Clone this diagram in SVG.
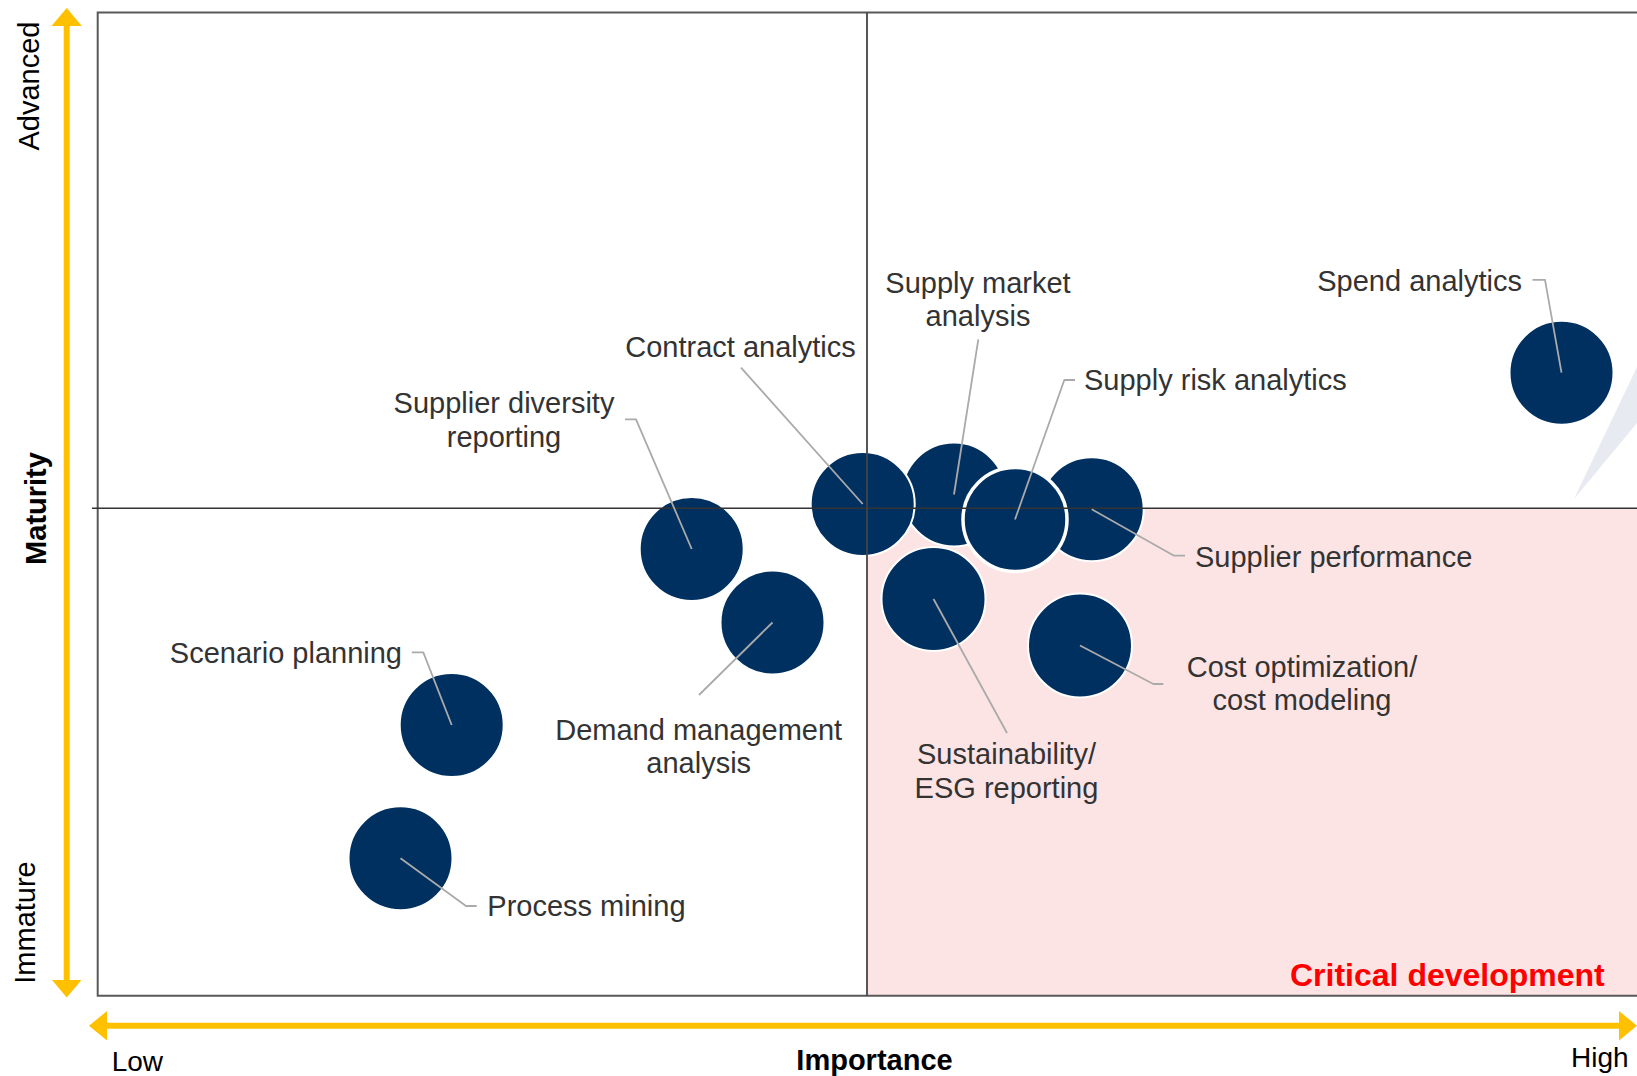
<svg xmlns="http://www.w3.org/2000/svg" width="1637" height="1076" viewBox="0 0 1637 1076">
<style>
.lbl{font-family:"Liberation Sans",Arial,Helvetica,sans-serif;font-size:29px;fill:#333333}
.ax{font-family:"Liberation Sans",Arial,Helvetica,sans-serif;font-size:29px;fill:#000000}
.bold{font-weight:bold}
.dot{fill:#003060;stroke:#ffffff;stroke-width:2}
.dot.thick{stroke-width:3.5}
.leader{fill:none;stroke:#AAAAAA;stroke-width:1.8;stroke-linejoin:round}
.axis{stroke:#FFC000;stroke-width:6;fill:none}
.head{fill:#FFC000}
</style>
<rect x="0" y="0" width="1637" height="1076" fill="#ffffff"/>
<g id="background">
<rect x="868" y="508.5" width="769" height="487" fill="#FDE4E4"/>
<polygon points="1574,499 1637,367 1637,423" fill="#E7EAF0"/>
<path d="M1637,12.5 H97.7 V995.7 H1637" fill="none" stroke="#595959" stroke-width="2"/>
</g>
<g id="axes">
<line class="axis" x1="66.7" y1="24" x2="66.7" y2="982"/>
<polygon class="head" points="66.7,8 51.5,26 81.8,26"/>
<polygon class="head" points="66.7,997.5 52,980 81.5,980"/>
<line class="axis" x1="105" y1="1025.7" x2="1621" y2="1025.7"/>
<polygon class="head" points="89,1025.7 107,1011 107,1040.4"/>
<polygon class="head" points="1637,1025.7 1619,1011 1619,1040.4"/>
<text class="ax" transform="translate(39,86) rotate(-90)" text-anchor="middle">Advanced</text>
<text class="ax bold" transform="translate(46,508.5) rotate(-90)" text-anchor="middle">Maturity</text>
<text class="ax" transform="translate(35,922.5) rotate(-90)" text-anchor="middle">Immature</text>
<text class="ax" x="111.7" y="1071" style="font-size:28px">Low</text>
<text class="ax bold" x="874.5" y="1070" text-anchor="middle">Importance</text>
<text class="ax" x="1571" y="1067" style="font-size:28px">High</text>
<text x="1290" y="986" style="font-family:'Liberation Sans',Arial,sans-serif;font-size:32px;font-weight:bold;fill:#FF0000">Critical development</text>
</g>
<g id="node-supply-market">
<circle class="dot" cx="954" cy="494.5" r="52"/>
<text class="lbl" text-anchor="middle"><tspan x="978" y="293.3">Supply market</tspan><tspan x="978" y="326.3">analysis</tspan></text>
</g>
<g id="node-supplier-performance">
<circle class="dot" cx="1091.7" cy="509.3" r="52"/>
<text class="lbl" x="1195" y="566.7">Supplier performance</text>
</g>
<g id="node-contract-analytics">
<circle class="dot" cx="862.7" cy="504" r="52"/>
<text class="lbl" x="740.5" y="356.7" text-anchor="middle">Contract analytics</text>
</g>
<g id="node-supply-risk">
<circle class="dot thick" cx="1015" cy="519.5" r="52"/>
<text class="lbl" x="1084" y="390">Supply risk analytics</text>
</g>
<g id="node-spend-analytics">
<circle class="dot" cx="1561.5" cy="372.7" r="52"/>
<text class="lbl" x="1522" y="291" text-anchor="end">Spend analytics</text>
</g>
<g id="node-supplier-diversity">
<circle class="dot" cx="691.7" cy="549" r="52"/>
<text class="lbl" text-anchor="middle"><tspan x="504" y="413.3">Supplier diversity</tspan><tspan x="504" y="447.3">reporting</tspan></text>
</g>
<g id="node-demand-management">
<circle class="dot" cx="772.5" cy="622.5" r="52"/>
<text class="lbl" text-anchor="middle"><tspan x="698.7" y="740">Demand management</tspan><tspan x="698.7" y="772.5">analysis</tspan></text>
</g>
<g id="node-sustainability">
<circle class="dot" cx="933.5" cy="599" r="52"/>
<text class="lbl" text-anchor="middle"><tspan x="1006.5" y="764">Sustainability/</tspan><tspan x="1006.5" y="798">ESG reporting</tspan></text>
</g>
<g id="node-cost-optimization">
<circle class="dot" cx="1080" cy="645.5" r="52"/>
<text class="lbl" text-anchor="middle"><tspan x="1302" y="677.3">Cost optimization/</tspan><tspan x="1302" y="710">cost modeling</tspan></text>
</g>
<g id="node-scenario-planning">
<circle class="dot" cx="451.7" cy="725" r="52"/>
<text class="lbl" x="402" y="662.7" text-anchor="end">Scenario planning</text>
</g>
<g id="node-process-mining">
<circle class="dot" cx="400.5" cy="858.3" r="52"/>
<text class="lbl" x="487.3" y="916">Process mining</text>
</g>
<g id="quadrant-lines">
<line x1="92" y1="508.2" x2="1637" y2="508.2" stroke="#333333" stroke-width="1.5"/>
<line x1="867" y1="12.5" x2="867" y2="995.7" stroke="#444444" stroke-width="1.8"/>
</g>
<g id="connectors">
<polyline class="leader" points="1532.5,279.8 1545,279.8 1561.5,372.7"/>
<polyline class="leader" points="978.3,339.3 954,494.5"/>
<polyline class="leader" points="741,367.7 862.7,504"/>
<polyline class="leader" points="1075,380 1064.3,380 1015,519.5"/>
<polyline class="leader" points="1185,555.7 1174,555.7 1091.7,509.3"/>
<polyline class="leader" points="625,419.3 636,419.3 691.7,549"/>
<polyline class="leader" points="772.5,622.5 699,695"/>
<polyline class="leader" points="933.5,599 1007,733"/>
<polyline class="leader" points="1080,645.5 1153.3,684 1163.3,684"/>
<polyline class="leader" points="411.7,652.3 423.3,652.3 451.7,725"/>
<polyline class="leader" points="400.5,858.3 466,906 476.7,906"/>
</g>
</svg>
